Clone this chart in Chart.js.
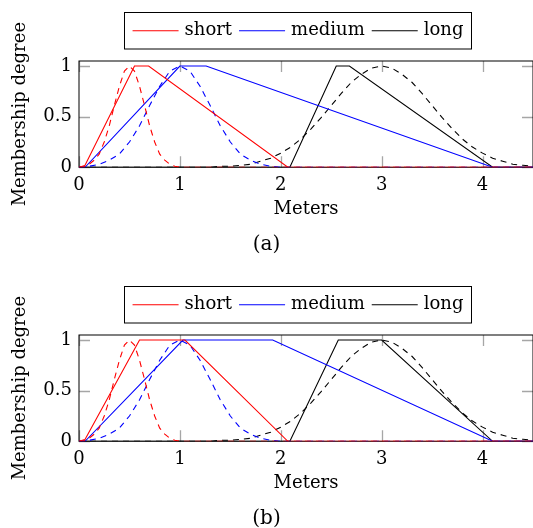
<!DOCTYPE html>
<html>
<head>
<meta charset="utf-8">
<script src="https://cdn.jsdelivr.net/npm/chart.js@4.4.1/dist/chart.umd.min.js"></script>
<style>
  html, body { margin: 0; padding: 0; background: #fff; overflow: hidden; }
  body { width: 533px; height: 528px; position: relative; }
  canvas { position: absolute; left: 0; }
  #chart-a { top: 0; }
  #chart-b { top: 274px; }
</style>
</head>
<body>
<canvas id="chart-a" width="533" height="260"></canvas>
<canvas id="chart-b" width="533" height="260"></canvas>
<script>
// Legend entries (solid line = fuzzy set, dashed = reference curve)
const setNames = ['short', 'medium', 'long'];
const setColors = ['#ff0000', '#0000ff', '#000000'];

// Trapezoid membership functions, panel (a)
const shortXa = [0, 0.05, 0.55, 0.69, 2.07, 4.5];
const mediumXa = [0, 0.06, 1.0, 1.26, 4.1, 4.5];
const longXa = [0, 2.09, 2.55, 2.68, 4.1, 4.5];

// Trapezoid membership functions, panel (b)
const shortXb = [0, 0.05, 0.6, 1.05, 2.07, 4.5];
const mediumXb = [0, 0.06, 1.03, 1.92, 4.1, 4.5];
const longXb = [0, 2.09, 2.57, 3.0, 4.1, 4.5];

const trapY = [0, 0, 1, 1, 0, 0];

// Dashed bell curves (same in both panels)
const shortDashX = [0, 0.1, 0.15, 0.2, 0.25, 0.3, 0.35, 0.4, 0.45, 0.5, 0.55, 0.6, 0.65, 0.7, 0.75, 0.8, 0.85, 0.9, 0.95, 1.0, 4.5];
const shortDashY = [0, 0.03, 0.07, 0.13, 0.25, 0.41, 0.61, 0.8, 0.95, 1, 0.95, 0.8, 0.61, 0.41, 0.25, 0.13, 0.07, 0.03, 0.01, 0, 0];
const mediumDashX = [0, 0.1, 0.2, 0.3, 0.4, 0.5, 0.6, 0.7, 0.8, 0.9, 1.0, 1.1, 1.2, 1.3, 1.4, 1.5, 1.6, 1.7, 1.8, 1.9, 2.0, 4.5];
const mediumDashY = [0, 0.01, 0.03, 0.07, 0.13, 0.25, 0.41, 0.61, 0.8, 0.95, 1, 0.95, 0.8, 0.61, 0.41, 0.25, 0.13, 0.07, 0.03, 0.01, 0, 0];
const longDashX = [0, 1.3, 1.4, 1.5, 1.6, 1.7, 1.8, 1.9, 2.0, 2.1, 2.2, 2.3, 2.4, 2.5, 2.6, 2.7, 2.8, 2.9, 3.0, 3.1, 3.2, 3.3, 3.4, 3.5, 3.6, 3.7, 3.8, 3.9, 4.0, 4.1, 4.2, 4.3, 4.4, 4.5];
const longDashY = [0, 0, 0.01, 0.01, 0.02, 0.03, 0.06, 0.09, 0.14, 0.2, 0.28, 0.38, 0.49, 0.61, 0.73, 0.84, 0.92, 0.98, 1, 0.98, 0.92, 0.84, 0.73, 0.61, 0.49, 0.38, 0.28, 0.2, 0.14, 0.09, 0.06, 0.03, 0.02, 0.01];

// Axis ticks
const xTicks = [0, 1, 2, 3, 4];
const yTicks = [0, 0.5, 1];

const FONT = { family: '"DejaVu Serif", serif', size: 18 };
Chart.defaults.color = '#000';
Chart.defaults.font.family = FONT.family;

function toPoints(xs, ys) {
  return xs.map((x, i) => ({ x: x, y: ys[i] }));
}

// frame + inward gray tick marks, pgfplots style
const frameTicks = {
  id: 'frameTicks',
  beforeDatasetsDraw(chart) {
    const { ctx, chartArea: a, scales: { x, y } } = chart;
    const len = 11;
    ctx.save();
    ctx.strokeStyle = '#a6a6a6';
    ctx.lineWidth = 1.3;
    ctx.beginPath();
    xTicks.forEach(v => {
      const px = Math.round(x.getPixelForValue(v)) + 0.5;
      ctx.moveTo(px, a.bottom); ctx.lineTo(px, a.bottom - len);
      ctx.moveTo(px, a.top); ctx.lineTo(px, a.top + len);
    });
    yTicks.forEach(v => {
      const py = Math.round(y.getPixelForValue(v)) + 0.5;
      ctx.moveTo(a.left, py); ctx.lineTo(a.left + len, py);
      ctx.moveTo(a.right, py); ctx.lineTo(a.right - len, py);
    });
    ctx.stroke();
    ctx.strokeStyle = '#000';
    ctx.lineWidth = 1;
    ctx.strokeRect(a.left, a.top, a.right - a.left, a.bottom - a.top);
    ctx.restore();
  }
};

// boxed legend above the plot
const boxLegend = {
  id: 'boxLegend',
  afterDraw(chart) {
    const ctx = chart.ctx;
    const box = { left: 124.5, top: 12.5, width: 347, height: 36.5 };
    const lineLen = 46, gapText = 6, gapItem = 7;
    ctx.save();
    ctx.font = FONT.size + 'px ' + FONT.family;
    const widths = setNames.map(n => ctx.measureText(n).width);
    let total = widths.reduce((s, w) => s + w, 0) + setNames.length * (lineLen + gapText) + (setNames.length - 1) * gapItem;
    let xPos = box.left + (box.width - total) / 2;
    const yMid = box.top + box.height / 2;
    ctx.strokeStyle = '#000';
    ctx.lineWidth = 1;
    ctx.strokeRect(box.left, box.top, box.width, box.height);
    ctx.textBaseline = 'middle';
    ctx.fillStyle = '#000';
    setNames.forEach((name, i) => {
      ctx.strokeStyle = setColors[i];
      ctx.lineWidth = 1.1;
      ctx.beginPath();
      ctx.moveTo(xPos, yMid);
      ctx.lineTo(xPos + lineLen, yMid);
      ctx.stroke();
      xPos += lineLen + gapText;
      ctx.fillText(name, xPos, yMid);
      xPos += widths[i] + gapItem;
    });
    ctx.restore();
  }
};

function makeChart(id, solidXs, caption) {
  const dashXs = [shortDashX, mediumDashX, longDashX];
  const dashYs = [shortDashY, mediumDashY, longDashY];
  const datasets = [];
  setNames.forEach((name, i) => {
    datasets.push({
      label: name,
      data: toPoints(solidXs[i], trapY),
      borderColor: setColors[i],
      borderWidth: 1.1,
      pointRadius: 0,
      tension: 0
    });
    datasets.push({
      label: name + ' (ref)',
      data: toPoints(dashXs[i], dashYs[i]),
      borderColor: setColors[i],
      borderWidth: 1.1,
      borderDash: [6, 5],
      pointRadius: 0,
      tension: 0
    });
  });

  return new Chart(document.getElementById(id), {
    type: 'line',
    data: { datasets: datasets },
    options: {
      responsive: false,
      animation: false,
      devicePixelRatio: 1,
      layout: { padding: { top: 61, left: 0, right: 0, bottom: 0 } },
      plugins: {
        legend: { display: false },
        tooltip: { enabled: false },
        title: {
          display: true,
          position: 'bottom',
          text: caption,
          color: '#000',
          font: { family: FONT.family, size: 20, weight: 'normal', lineHeight: 1.1 },
          padding: { top: 0, bottom: 4 }
        }
      },
      scales: {
        x: {
          type: 'linear',
          min: 0,
          max: 4.5,
          afterBuildTicks: s => { s.ticks = xTicks.map(v => ({ value: v })); },
          afterFit: s => { s.height = 66.7; },
          ticks: { padding: 7, maxRotation: 0, autoSkip: false, font: FONT, color: '#000', callback: v => String(v) },
          grid: { display: false, drawTicks: false },
          border: { display: false },
          title: { display: true, text: 'Meters', font: FONT, color: '#000', padding: { top: 0, bottom: 13.6 } }
        },
        y: {
          min: 0,
          max: 1.05,
          afterBuildTicks: s => { s.ticks = yTicks.map(v => ({ value: v })); },
          afterFit: s => { s.width = 79; },
          ticks: { padding: 7, font: FONT, color: '#000', callback: v => String(v) },
          grid: { display: false, drawTicks: false },
          border: { display: false },
          title: { display: true, text: 'Membership degree', font: FONT, color: '#000', padding: { top: 10, bottom: 0 } }
        }
      }
    },
    plugins: [frameTicks, boxLegend]
  });
}

makeChart('chart-a', [shortXa, mediumXa, longXa], '(a)');
makeChart('chart-b', [shortXb, mediumXb, longXb], '(b)');
</script>
</body>
</html>
